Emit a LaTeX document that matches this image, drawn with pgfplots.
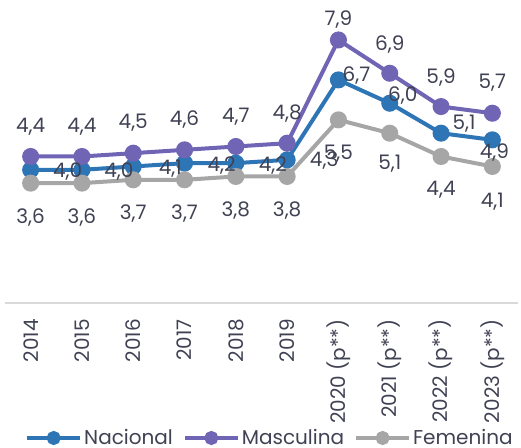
\documentclass[border=0pt]{standalone}
\usepackage{fontspec}
\setmainfont{Poppins}
\usepackage{pgfplots}
\pgfplotsset{compat=1.18}
\usepackage{pgfplotstable}
\definecolor{nac}{RGB}{46,117,182}
\definecolor{mas}{RGB}{112,100,180}
\definecolor{fem}{RGB}{166,166,166}
\definecolor{txt}{RGB}{64,66,84}
\definecolor{axl}{RGB}{217,217,217}
\newcommand{\cf}{\fontsize{20bp}{24bp}\selectfont}

\pgfplotstableread{
x y dx dy
0 4.0 37 -2
1 4.0 37 -2
2 4.1 37 -2
3 4.2 37 -2
4 4.2 37 -2
5 4.3 37 -1
6 6.7 18 4
7 6.0 13 8
8 5.1 23 9
9 4.9 2 -13
}\nacdata

\pgfplotstableread{
x y dx dy
0 4.4 0 30
1 4.4 0 30
2 4.5 0 30
3 4.6 0 30
4 4.7 0 30
5 4.8 0 30
6 7.9 0 20
7 6.9 0 29
8 5.9 0 29
9 5.7 0 31
}\masdata

\pgfplotstableread{
x y dx dy
0 3.6 0 -34
1 3.6 0 -34
2 3.7 0 -34
3 3.7 0 -34
4 3.8 0 -34
5 3.8 0 -34
6 5.5 0 -34
7 5.1 0 -31
8 4.4 0 -33
9 4.1 0 -35
}\femdata

\pgfplotsset{
  lbl/.style={draw=none, mark=none, forget plot,
    nodes near coords={\pgfmathprintnumber[fixed,fixed zerofill,precision=1,use comma]{\pgfplotspointmeta}},
    visualization depends on={\thisrow{dx}\as\dx},
    visualization depends on={\thisrow{dy}\as\dy},
    every node near coord/.append style={font=\cf, text=txt, anchor=center, inner sep=0pt, xshift=\dx*1bp, yshift=\dy*1bp}},
  ser/.style={#1, line width=4bp, mark=*, mark size=6.5bp, mark options={solid}},
}

\begin{document}
\begin{tikzpicture}
\begin{axis}[
  scale only axis, width=513bp, height=303bp,
  xmin=-0.5, xmax=9.5, ymin=0, ymax=9.1,
  axis y line=none, axis x line*=bottom,
  x axis line style={-, draw=axl, line width=1.5bp},
  xtick={0,...,9},
  xticklabels={2014,2015,2016,2017,2018,2019,2020 (p**),2021 (p**),2022 (p**),2023 (p**)},
  major tick length=0pt,
  xticklabel shift=16bp,
  xticklabel style={rotate=90, anchor=east, font=\cf, text=txt, inner sep=0pt},
  ytick=\empty,
  /pgf/number format/assume math mode=true,
  legend columns=3,
  legend style={draw=none, fill=none, at={(rel axis cs:0,0)}, anchor=west, xshift=20bp, yshift=-135bp, font=\cf, text=txt, inner sep=0pt, /tikz/every even column/.append style={column sep=8bp}},
  legend cell align=left,
  legend image code/.code={\draw[#1, mark size=5bp, mark repeat=2, mark phase=2] plot coordinates {(0bp,0bp) (26.5bp,0bp) (53bp,0bp)};},
]
\addplot[ser=nac] table[x=x,y=y] {\nacdata};
\addlegendentry{Nacional}
\addplot[ser=mas] table[x=x,y=y] {\masdata};
\addlegendentry{Masculina}
\addplot[ser=fem] table[x=x,y=y] {\femdata};
\addlegendentry{Femenina}
\addplot[lbl] table[x=x,y=y] {\nacdata};
\addplot[lbl] table[x=x,y=y] {\masdata};
\addplot[lbl] table[x=x,y=y] {\femdata};
\end{axis}
\pgfresetboundingbox
\useasboundingbox (-5bp,-145bp) rectangle (516bp,303bp);
\end{tikzpicture}
\end{document}
